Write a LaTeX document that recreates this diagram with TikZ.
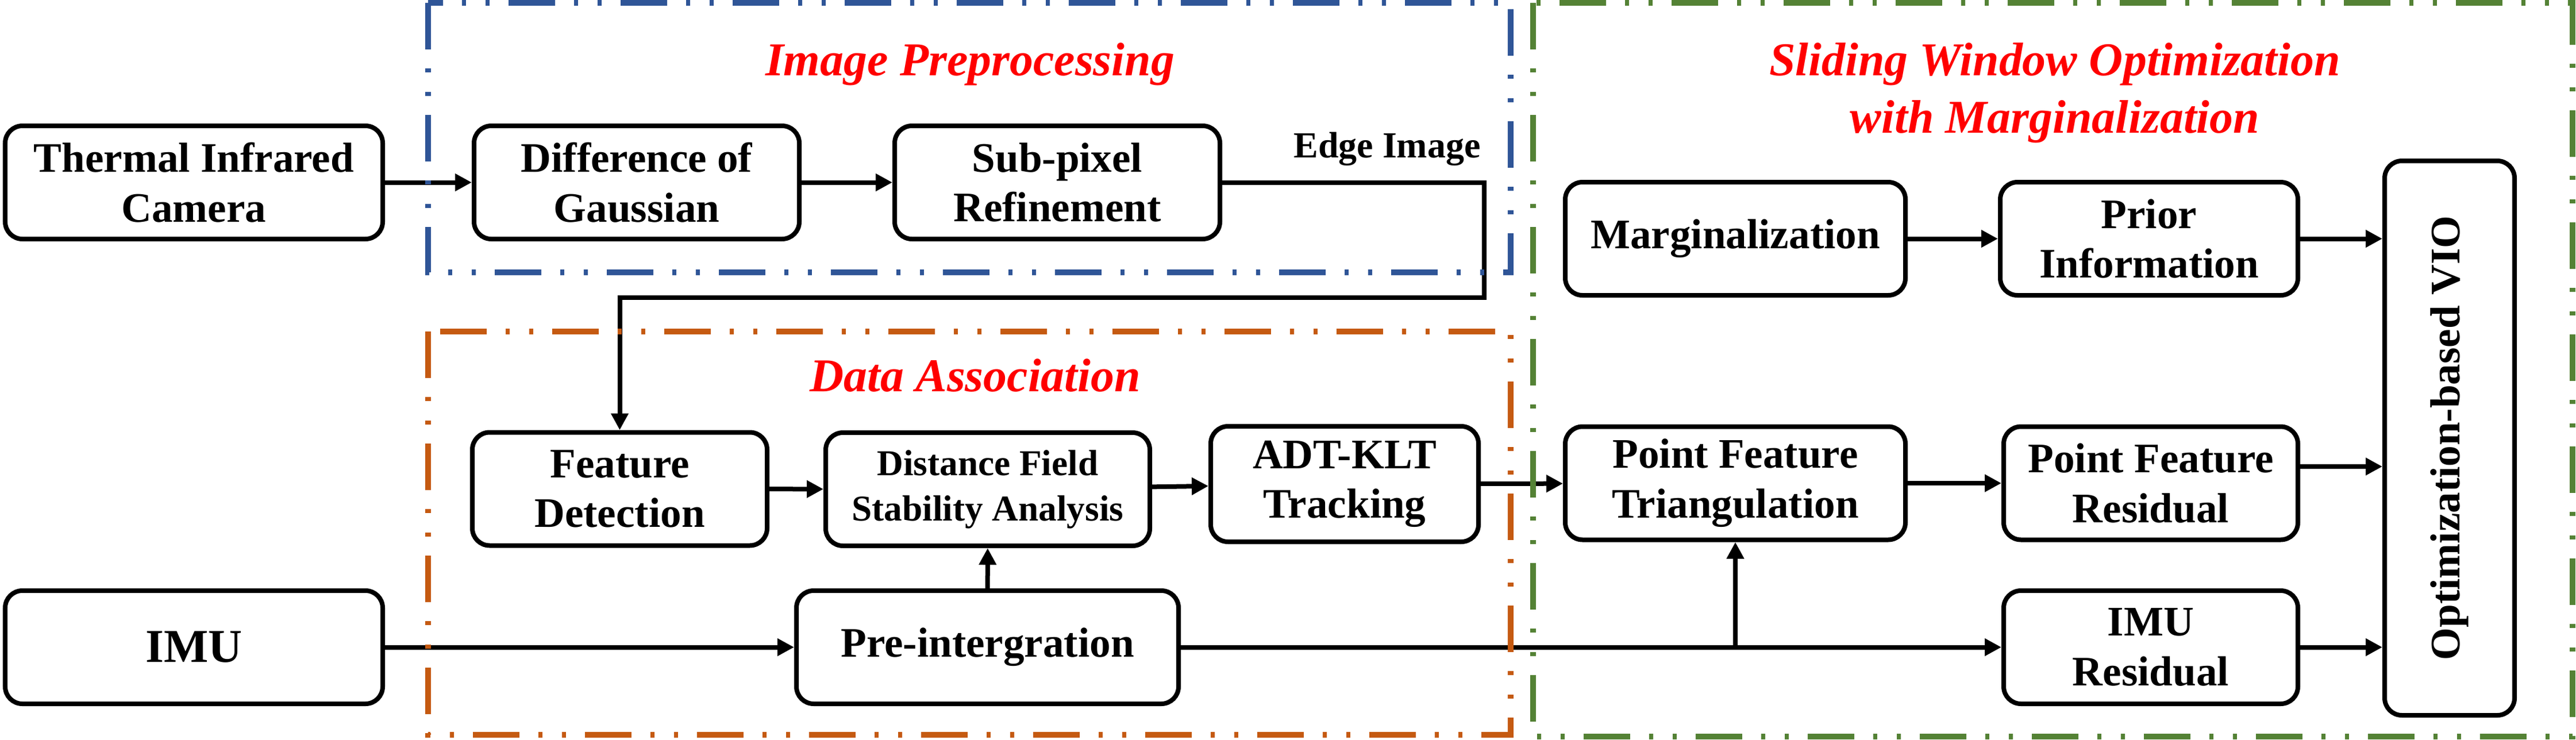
\documentclass[tikz,border=0pt]{standalone}
\usepackage{fontspec}
\setmainfont{Liberation Serif}
\usetikzlibrary{arrows.meta}
\definecolor{ipblue}{RGB}{47,85,151}
\definecolor{daorange}{RGB}{197,90,17}
\definecolor{swgreen}{RGB}{84,130,53}
\tikzstyle{block}=[rectangle,rounded corners=0.3cm,draw=black,line width=0.08cm,minimum height=1.97cm,align=center,font=\fontsize{20.8}{24.7}\selectfont\bfseries]
\tikzstyle{edgetext}=[font=\fontsize{18.2}{22}\selectfont\bfseries]
\tikzstyle{grouptitle}=[text=red,align=center,font=\fontsize{23.3}{28.3}\selectfont\bfseries\itshape]
\tikzstyle{groupframe}=[line width=0.1cm,dash pattern=on 0.81cm off 0.33cm on 0.07cm off 0.34cm on 0.07cm off 0.33cm]

\begin{document}
\begin{tikzpicture}[line width=0.08cm,>={Triangle[length=0.29cm,width=0.29cm]}]
        \useasboundingbox (0,0) rectangle (44.83,-12.87);

        % top row
        \node[block,minimum width=6.57cm] (cam) at (3.375,-3.175) {Thermal Infrared\\Camera};
        \node[block,minimum width=5.66cm] (dog) at (11.08,-3.175) {Difference of\\Gaussian};
        \node[block,minimum width=5.66cm] (subpix) at (18.40,-3.175) {Sub-pixel\\Refinement};
        \node[block,minimum width=5.92cm] (marg) at (30.20,-4.155) {Marginalization};
        \node[block,minimum width=5.18cm] (prior) at (37.40,-4.155) {Prior\\Information};
        \node[block,minimum width=2.26cm,minimum height=9.65cm] (vio) at (42.63,-7.625)
            {\rotatebox{90}{Optimization-based VIO}};

        % middle row
        \node[block,minimum width=5.13cm] (feat) at (10.785,-8.51) {Feature\\Detection};
        \node[block,minimum width=5.64cm,font=\fontsize{18}{22.5}\selectfont\bfseries] (dist) at (17.19,-8.515)
            {Distance Field\\Stability Analysis};
        \node[block,minimum width=4.66cm,minimum height=2.01cm] (adt) at (23.40,-8.425) {ADT-KLT\\Tracking};
        \node[block,minimum width=5.92cm] (pft) at (30.20,-8.41) {Point Feature\\Triangulation};
        \node[block,minimum width=5.12cm] (pfr) at (37.43,-8.41) {Point Feature\\Residual};

        % bottom row
        \node[block,minimum width=6.57cm,font=\fontsize{23.3}{28}\selectfont\bfseries] (imu) at (3.375,-11.265) {IMU};
        \node[block,minimum width=6.65cm] (pre) at (17.185,-11.265) {Pre-intergration};
        \node[block,minimum width=5.12cm] (imures) at (37.43,-11.265) {IMU\\Residual};

        \coordinate (edgebend) at (25.83,-5.18);
        \coordinate (imujn) at (30.20,-11.265);

        \draw [->] (cam) -- (dog);
        \draw [->] (dog) -- (subpix);
        \draw [->] (subpix.east) -| (edgebend) -| (feat);
        \node[edgetext,anchor=base] (edgelbl) at (24.14,-2.74) {Edge Image};
        \draw [->] (feat) -- (dist);
        \draw [->] (dist) -- (adt);
        \draw [->] (adt) -- (pft);
        \draw [->] (pft) -- (pfr);
        \draw [->] (marg) -- (prior);
        \draw [->] (prior) -- (prior -| vio.west);
        \draw [->] ([yshift=0.29cm]pfr.east) -- ([yshift=0.29cm]pfr.east -| vio.west);
        \draw [->] (imures) -- (imures -| vio.west);
        \draw [->] (imu) -- (pre);
        \draw [->] (pre) -- (dist);
        \draw [->] (pre) -- (imures);
        \draw [->] (imujn) -- (pft);

        % groups
        \draw[groupframe,ipblue] (7.45,-0.05) rectangle (26.29,-4.74);
        \draw[groupframe,daorange] (7.45,-5.77) rectangle (26.29,-12.79);
        \draw[groupframe,swgreen] (26.68,-0.05) rectangle (44.77,-12.82);

        \node[grouptitle,anchor=base] (iptitle) at (16.88,-1.31) {Image Preprocessing};
        \node[grouptitle,anchor=base] (datitle) at (16.97,-6.81) {Data Association};
        \node[grouptitle] (swtitle) at (35.76,-1.62) {Sliding Window Optimization\\with Marginalization};
\end{tikzpicture}
\end{document}
